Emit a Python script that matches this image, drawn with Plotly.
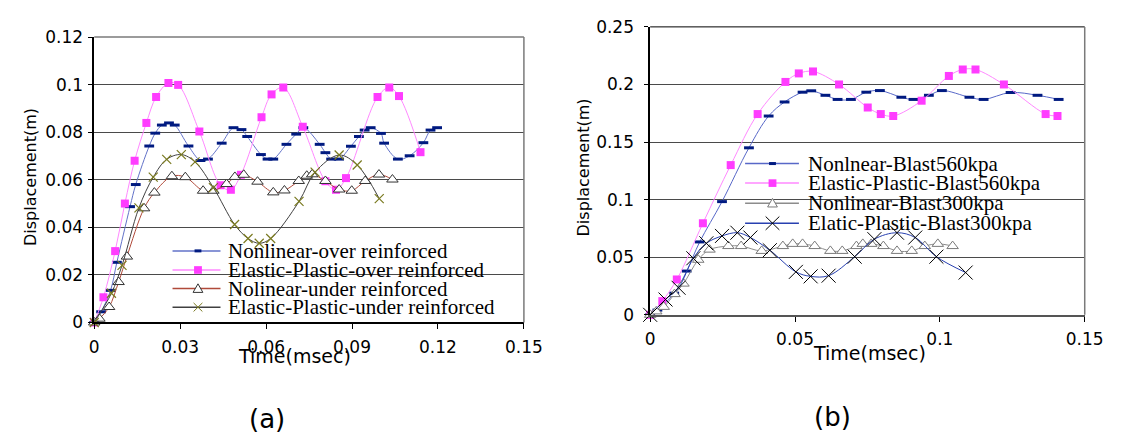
import plotly.graph_objects as go

W, H = 1129, 439

# ---------------- Panel (a) data ----------------
a_nl_over_t = [0, 0.0024, 0.0057, 0.0079, 0.0125, 0.0145, 0.0192, 0.0213, 0.0236, 0.0261, 0.0281,
               0.0329, 0.0371, 0.0397, 0.0445, 0.0486, 0.0514, 0.0534, 0.0582, 0.0605, 0.0625,
               0.0671, 0.0705, 0.073, 0.0787, 0.0807, 0.0827, 0.0855, 0.0896, 0.0924, 0.0944,
               0.0965, 0.1001, 0.1012, 0.106, 0.1101, 0.1149, 0.1174, 0.1197]
a_nl_over_d = [0, 0.0045, 0.0135, 0.0253, 0.0487, 0.058, 0.0742, 0.0796, 0.083, 0.0839, 0.083,
               0.0742, 0.0681, 0.0687, 0.0754, 0.0819, 0.0811, 0.0782, 0.0706, 0.0687, 0.0687,
               0.0749, 0.0792, 0.0819, 0.0749, 0.0714, 0.0687, 0.0687, 0.0741, 0.0782, 0.0809,
               0.0819, 0.0795, 0.0754, 0.0687, 0.0701, 0.0756, 0.0809, 0.0819]

a_ep_over_t = [0, 0.0032, 0.0073, 0.0107, 0.0141, 0.0182, 0.0216, 0.0259, 0.0293, 0.0367, 0.0441,
               0.0477, 0.0512, 0.0584, 0.0619, 0.066, 0.0728, 0.0807, 0.0844, 0.0879, 0.0989,
               0.103, 0.1064, 0.1139]
a_ep_over_d = [0, 0.0106, 0.030, 0.050, 0.068, 0.0839, 0.0948, 0.1007, 0.0999, 0.0803, 0.0577,
               0.0558, 0.0621, 0.0863, 0.0959, 0.0988, 0.0823, 0.0594, 0.0558, 0.0607, 0.0948,
               0.0988, 0.0952, 0.0716]

a_nl_under_t = [0, 0.0018, 0.0052, 0.0085, 0.0114, 0.0174, 0.021, 0.0271, 0.0318, 0.038, 0.0416,
                0.0462, 0.0491, 0.0522, 0.057, 0.0625, 0.0664, 0.0714, 0.0742, 0.0761, 0.0807,
                0.0855, 0.0899, 0.0946, 0.0994, 0.1041]
a_nl_under_d = [0, 0.0016, 0.0065, 0.017, 0.0277, 0.048, 0.0546, 0.0615, 0.0611, 0.0554, 0.0554,
                0.0582, 0.0612, 0.0621, 0.0592, 0.0547, 0.0555, 0.0595, 0.0617, 0.0623, 0.0595,
                0.0559, 0.0554, 0.0595, 0.0622, 0.0601]

a_ep_under_t = [0, 0.006, 0.0097, 0.0156, 0.0206, 0.0253, 0.0304, 0.0352, 0.0416, 0.049, 0.0537,
                0.0576, 0.0616, 0.0715, 0.0771, 0.0855, 0.0918, 0.0995]
a_ep_under_d = [0, 0.0123, 0.024, 0.0482, 0.0611, 0.0686, 0.0706, 0.0675, 0.0567, 0.0412, 0.0353,
                0.0333, 0.0353, 0.0509, 0.0632, 0.0704, 0.0662, 0.0521]

# ---------------- Panel (b) data ----------------
b_nl_560_t = [0, 0.0025, 0.0083, 0.0126, 0.0171, 0.0248, 0.0341, 0.0409, 0.0464, 0.0526, 0.0556,
              0.0605, 0.0647, 0.0693, 0.0746, 0.0793, 0.0867, 0.0909, 0.0962, 0.1007, 0.1102,
              0.1151, 0.1244, 0.1337, 0.141]
b_nl_560_d = [0, 0.0041, 0.0188, 0.038, 0.0633, 0.0983, 0.145, 0.1726, 0.1848, 0.1933, 0.1945,
              0.1906, 0.187, 0.187, 0.1933, 0.1947, 0.1889, 0.187, 0.1906, 0.1947, 0.1889,
              0.187, 0.193, 0.1906, 0.187]

b_ep_560_t = [0, 0.0042, 0.0092, 0.0182, 0.0278, 0.0371, 0.0467, 0.0513, 0.0562, 0.0652, 0.0751,
              0.0796, 0.0839, 0.0937, 0.1031, 0.1079, 0.1123, 0.1221, 0.1365, 0.1406]
b_ep_560_d = [0, 0.0119, 0.0307, 0.0795, 0.130, 0.1743, 0.2022, 0.2096, 0.2113, 0.2, 0.18,
              0.1743, 0.1726, 0.1859, 0.2074, 0.213, 0.213, 0.2, 0.1743, 0.1726]

b_nl_300_t = [0, 0.0021, 0.0047, 0.0084, 0.0115, 0.0166, 0.0205, 0.027, 0.0314, 0.0385, 0.0458,
              0.0492, 0.0526, 0.0568, 0.0622, 0.0663, 0.0712, 0.0734, 0.0763, 0.0805, 0.0852,
              0.0903, 0.0948, 0.0993, 0.1044]
b_nl_300_d = [0, 0.003, 0.0069, 0.018, 0.0271, 0.0478, 0.0566, 0.0597, 0.0597, 0.0555, 0.0597,
              0.0616, 0.0616, 0.0597, 0.0555, 0.0555, 0.0597, 0.0616, 0.0616, 0.0597, 0.0555,
              0.0555, 0.0597, 0.0616, 0.0597]

b_ep_300_t = [0, 0.0053, 0.0098, 0.0149, 0.0194, 0.0248, 0.0301, 0.0346, 0.0413, 0.0503, 0.0554,
              0.0616, 0.0706, 0.0774, 0.0852, 0.0915, 0.0988, 0.1089]
b_ep_300_d = [0, 0.0133, 0.0235, 0.0491, 0.0621, 0.0685, 0.0713, 0.0671, 0.0561, 0.0373, 0.0334,
              0.034, 0.0505, 0.0657, 0.0713, 0.0671, 0.0505, 0.0367]

# ---------------- Axis ticks / labels ----------------
a_xticks = [0, 0.03, 0.06, 0.09, 0.12, 0.15]
a_xlabels = ["0", "0.03", "0.06", "0.09", "0.12", "0.15"]
a_yticks = [0, 0.02, 0.04, 0.06, 0.08, 0.1, 0.12]
a_ylabels = ["0", "0.02", "0.04", "0.06", "0.08", "0.1", "0.12"]
b_xticks = [0, 0.05, 0.1, 0.15]
b_xlabels = ["0", "0.05", "0.1", "0.15"]
b_yticks = [0, 0.05, 0.1, 0.15, 0.2, 0.25]
b_ylabels = ["0", "0.05", "0.1", "0.15", "0.2", "0.25"]

a_names = ["Nonlinear-over reinforced", "Elastic-Plastic-over reinforced",
           "Nolinear-under reinforced", "Elastic-Plastic-under reinforced"]
b_names = ["Nonlnear-Blast560kpa", "Elastic-Plastic-Blast560kpa",
           "Nonlinear-Blast300kpa", "Elatic-Plastic-Blast300kpa"]

# ---------------- styles ----------------
NAVY = "#001a80"
MAG = "#ff3cff"
MAG_LINE = "#ff88ff"

styles_a = [
    dict(line=dict(color="#6272c8", width=1, shape="spline"),
         marker=dict(symbol="line-ew", size=7, line=dict(color=NAVY, width=3))),
    dict(line=dict(color=MAG_LINE, width=1, shape="spline"),
         marker=dict(symbol="square", size=8, color=MAG, line=dict(width=0))),
    dict(line=dict(color="#b04a3a", width=1, shape="spline"),
         marker=dict(symbol="triangle-up", size=10, color="white", line=dict(color="#333333", width=1))),
    dict(line=dict(color="#404040", width=1, shape="spline"),
         marker=dict(symbol="x-thin", size=9, line=dict(color="#7a7a20", width=1.2))),
]
styles_b = [
    dict(line=dict(color="#5868c8", width=1, shape="spline"),
         marker=dict(symbol="line-ew", size=7, line=dict(color=NAVY, width=3))),
    dict(line=dict(color=MAG_LINE, width=1, shape="spline"),
         marker=dict(symbol="square", size=8, color=MAG, line=dict(width=0))),
    dict(line=dict(color="#8c8c8c", width=1, shape="spline"),
         marker=dict(symbol="triangle-up", size=10, color="white", line=dict(color="#7a7a7a", width=1))),
    dict(line=dict(color="#2840b0", width=1, shape="spline"),
         marker=dict(symbol="x-thin", size=14, line=dict(color="black", width=1))),
]

fig = go.Figure()

a_series = [(a_nl_over_t, a_nl_over_d), (a_ep_over_t, a_ep_over_d),
            (a_nl_under_t, a_nl_under_d), (a_ep_under_t, a_ep_under_d)]
b_series = [(b_nl_560_t, b_nl_560_d), (b_ep_560_t, b_ep_560_d),
            (b_nl_300_t, b_nl_300_d), (b_ep_300_t, b_ep_300_d)]

for (t, d), name, st in zip(a_series, a_names, styles_a):
    fig.add_trace(go.Scatter(x=t, y=d, name=name, mode="lines+markers", xaxis="x", yaxis="y",
                             showlegend=False, cliponaxis=False, **st))
for (t, d), name, st in zip(b_series, b_names, styles_b):
    fig.add_trace(go.Scatter(x=t, y=d, name=name, mode="lines+markers", xaxis="x2", yaxis="y2",
                             showlegend=False, cliponaxis=False, **st))


def px(xp):
    return xp / W


def py(yp):
    return 1 - yp / H


TICKFONT = dict(family="DejaVu Sans, Verdana, sans-serif", size=17, color="black")
GRID = "#4a4a4a"

common_x = dict(showgrid=False, zeroline=False, showline=True, linecolor="black", linewidth=1.5,
                ticks="outside", ticklen=5, tickcolor="black", tickfont=TICKFONT, mirror=False,
                ticklabelstandoff=3)
common_y = dict(showgrid=True, gridcolor=GRID, gridwidth=1, zeroline=False, showline=True,
                linecolor="black", linewidth=1.5, ticks="outside", ticklen=4, tickcolor="black",
                tickfont=TICKFONT, mirror=False)

fig.update_layout(
    width=W, height=H,
    margin=dict(l=0, r=0, t=0, b=0),
    paper_bgcolor="white", plot_bgcolor="white",
    showlegend=False,
    xaxis=dict(domain=[px(83), px(522)], range=[0, 0.15], tickvals=a_xticks, ticktext=a_xlabels,
               anchor="y", **common_x),
    yaxis=dict(domain=[py(319), py(20)], range=[0, 0.12], tickvals=a_yticks, ticktext=a_ylabels,
               anchor="x", ticklabelstandoff=2, **common_y),
    xaxis2=dict(domain=[px(651), px(1095)], range=[0, 0.15], tickvals=b_xticks, ticktext=b_xlabels,
                anchor="y2", **common_x),
    yaxis2=dict(domain=[py(311), py(9.3)], range=[0, 0.25], tickvals=b_yticks, ticktext=b_ylabels,
                anchor="x2", ticklabelstandoff=7, **common_y),
)
fig.layout.xaxis2.linecolor = "#555555"
fig.layout.xaxis2.linewidth = 2

shapes = []
# frame borders
shapes.append(dict(type="line", xref="x domain", yref="y domain", x0=0, x1=1, y0=1, y1=1,
                   line=dict(color="#7a7a7a", width=1.5)))
shapes.append(dict(type="line", xref="x domain", yref="y domain", x0=1, x1=1, y0=0, y1=1,
                   line=dict(color="#7a7a7a", width=1.5)))
shapes.append(dict(type="line", xref="x2 domain", yref="y2 domain", x0=0, x1=1, y0=1, y1=1,
                   line=dict(color="black", width=1)))
shapes.append(dict(type="line", xref="x2 domain", yref="y2 domain", x0=1, x1=1, y0=0, y1=1,
                   line=dict(color="#7a7a7a", width=1.5)))

annotations = []
LEGFONT = dict(family="Liberation Serif, Times New Roman, serif", size=21, color="black")


def legend_key(xl0, xl1, xm, yc, style, kind):
    lc = style["line"]["color"]
    shapes.append(dict(type="line", xref="paper", yref="paper", x0=px(xl0), x1=px(xl1),
                       y0=py(yc), y1=py(yc), line=dict(color=lc, width=1.5)))
    m = style["marker"]
    if kind == "dash":
        shapes.append(dict(type="line", xref="paper", yref="paper", x0=px(xm - 3.5), x1=px(xm + 3.5),
                           y0=py(yc), y1=py(yc), line=dict(color=m["line"]["color"], width=3)))
    elif kind == "square":
        s = m["size"] / 2
        shapes.append(dict(type="rect", xref="paper", yref="paper", x0=px(xm - s), x1=px(xm + s),
                           y0=py(yc + s), y1=py(yc - s), fillcolor=m["color"], line=dict(width=0)))
    elif kind == "tri":
        s = m["size"] / 2
        path = "M {:.5f},{:.5f} L {:.5f},{:.5f} L {:.5f},{:.5f} Z".format(
            px(xm), py(yc - s), px(xm - s), py(yc + s * 0.8), px(xm + s), py(yc + s * 0.8))
        shapes.append(dict(type="path", xref="paper", yref="paper", path=path,
                           fillcolor="white", line=dict(color=m["line"]["color"], width=1)))
    elif kind == "x":
        s = m["size"] / 2
        for sgn in (1, -1):
            shapes.append(dict(type="line", xref="paper", yref="paper", x0=px(xm - s), x1=px(xm + s),
                               y0=py(yc - sgn * s), y1=py(yc + sgn * s),
                               line=dict(color=m["line"]["color"], width=1)))


kinds = ["dash", "square", "tri", "x"]
a_rows = [244, 264, 283.5, 303]
for yc, name, st, k in zip(a_rows, a_names, styles_a, kinds):
    legend_key(163, 212, 189, yc, st, k)
    annotations.append(dict(text=name, xref="paper", yref="paper", x=px(218), y=py(yc),
                            xanchor="left", yanchor="middle", showarrow=False, font=LEGFONT))
b_rows = [152.5, 173, 194, 215]
for yc, name, st, k in zip(b_rows, b_names, styles_b, kinds):
    legend_key(748, 803, 776, yc, st, k)
    annotations.append(dict(text=name, xref="paper", yref="paper", x=px(810), y=py(yc),
                            xanchor="left", yanchor="middle", showarrow=False, font=LEGFONT))

TITLEFONT = dict(family="DejaVu Sans, Verdana, sans-serif", size=16, color="black")
XTITLEFONT = dict(family="DejaVu Sans, Verdana, sans-serif", size=19, color="black")
annotations += [
    dict(text="Displacement(m)", xref="paper", yref="paper", x=px(18), y=py(167), textangle=-90,
         xanchor="center", yanchor="middle", showarrow=False, font=TITLEFONT),
    dict(text="Displacement(m)", xref="paper", yref="paper", x=px(583), y=py(157), textangle=-90,
         xanchor="center", yanchor="middle", showarrow=False, font=TITLEFONT),
    dict(text="Time(msec)", xref="paper", yref="paper", x=px(288), y=py(354),
         xanchor="center", yanchor="middle", showarrow=False, font=XTITLEFONT),
    dict(text="Time(msec)", xref="paper", yref="paper", x=px(875), y=py(351),
         xanchor="center", yanchor="middle", showarrow=False, font=XTITLEFONT),
    dict(text="(a)", xref="paper", yref="paper", x=px(260), y=py(420),
         xanchor="center", yanchor="middle", showarrow=False,
         font=dict(family="DejaVu Sans, sans-serif", size=26, color="black")),
    dict(text="(b)", xref="paper", yref="paper", x=px(837), y=py(418),
         xanchor="center", yanchor="middle", showarrow=False,
         font=dict(family="DejaVu Sans, sans-serif", size=26, color="black")),
]

fig.update_layout(shapes=shapes, annotations=annotations)
fig.write_html("out.html")
